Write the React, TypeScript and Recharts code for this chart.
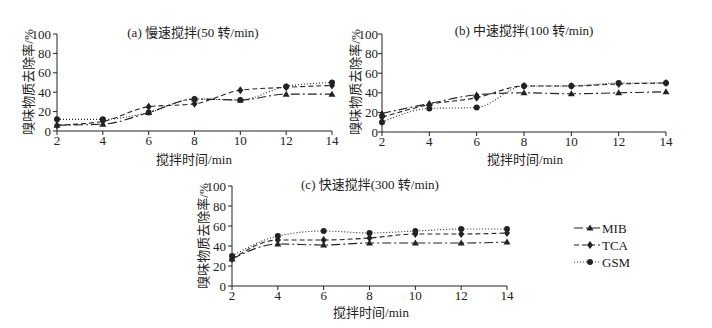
import React from "react";
import { CartesianGrid, Line, LineChart, XAxis, YAxis } from "recharts";

const times = [2, 4, 6, 8, 10, 12, 14];
const yTicks = [0, 20, 40, 60, 80, 100];

// panel (a) slow stirring
const mibSlow = [6, 7, 19, 33, 32, 38, 38];
const tcaSlow = [6, 10, 25, 28, 42, 45, 47];
const gsmSlow = [12, 12, 19, 33, 32, 46, 50];

// panel (b) medium stirring
const mibMid = [19, 29, 38, 40, 39, 40, 41];
const tcaMid = [15, 28, 35, 47, 47, 49, 50];
const gsmMid = [10, 24, 25, 47, 47, 50, 50];

// panel (c) fast stirring
const mibFast = [27, 42, 41, 43, 43, 43, 44];
const tcaFast = [27, 46, 46, 48, 52, 52, 53];
const gsmFast = [30, 50, 55, 53, 55, 57, 57];

const FONT = '"Liberation Serif", "Noto Sans CJK SC", serif';
const INK = "#222";

type Shape = "triangle" | "diamond" | "circle";

const SERIES: { key: string; name: string; dash: string; shape: Shape }[] = [
  { key: "mib", name: "MIB", dash: "9 3 2 3", shape: "triangle" },
  { key: "tca", name: "TCA", dash: "5 3", shape: "diamond" },
  { key: "gsm", name: "GSM", dash: "1 2", shape: "circle" },
];

function Marker({ cx, cy, shape }: { cx: number; cy: number; shape: Shape }) {
  if (cx == null || cy == null) return null;
  if (shape === "triangle") {
    return (
      <polygon
        points={`${cx},${cy - 3.5} ${cx - 3.5},${cy + 2.5} ${cx + 3.5},${cy + 2.5}`}
        fill={INK}
      />
    );
  }
  if (shape === "diamond") {
    return (
      <polygon
        points={`${cx},${cy - 4} ${cx + 3},${cy} ${cx},${cy + 4} ${cx - 3},${cy}`}
        fill={INK}
      />
    );
  }
  return <circle cx={cx} cy={cy} r={3} fill={INK} />;
}

function buildRows(mib: number[], tca: number[], gsm: number[]) {
  return times.map((t, i) => ({ t, mib: mib[i], tca: tca[i], gsm: gsm[i] }));
}

type PanelProps = {
  left: number;
  top: number;
  width: number;
  height: number;
  margin: { top: number; right: number; bottom: number; left: number };
  rows: ReturnType<typeof buildRows>;
  yTickMargin?: number;
};

function Panel({ left, top, width, height, margin, rows, yTickMargin = 2 }: PanelProps) {
  return (
    <div style={{ position: "absolute", left, top }}>
      <LineChart width={width} height={height} data={rows} margin={margin}>
        <CartesianGrid stroke="none" />
        <XAxis
          dataKey="t"
          type="number"
          domain={[2, 14]}
          ticks={times}
          stroke={INK}
          tickSize={4}
          tickMargin={1}
          height={24}
          tick={{ fill: INK, fontSize: 13, fontFamily: FONT }}
        />
        <YAxis
          domain={[0, 100]}
          ticks={yTicks}
          stroke={INK}
          tickSize={4}
          tickMargin={yTickMargin}
          width={40}
          interval={0}
          tick={{ fill: INK, fontSize: 13, fontFamily: FONT }}
        />
        {SERIES.map((s) => (
          <Line
            key={s.key}
            dataKey={s.key}
            type="monotone"
            stroke={INK}
            strokeWidth={1.1}
            strokeDasharray={s.dash}
            dot={(p: any) => (
              <Marker key={`${s.key}-${p.index}`} cx={p.cx} cy={p.cy} shape={s.shape} />
            )}
            isAnimationActive={false}
          />
        ))}
      </LineChart>
    </div>
  );
}

function Text({
  x,
  y,
  children,
  rotate,
}: {
  x: number;
  y: number;
  children: React.ReactNode;
  rotate?: boolean;
}) {
  return (
    <div
      style={{
        position: "absolute",
        left: x,
        top: y,
        transform: `translate(-50%, -50%)${rotate ? " rotate(-90deg)" : ""}`,
        whiteSpace: "nowrap",
        fontFamily: FONT,
        fontSize: 13,
        color: INK,
        lineHeight: 1,
      }}
    >
      {children}
    </div>
  );
}

function LegendBox() {
  return (
    <svg
      style={{ position: "absolute", left: 570, top: 215 }}
      width={80}
      height={60}
    >
      {SERIES.map((s, i) => {
        const y = 13 + i * 17;
        return (
          <g key={s.key}>
            <line x1={4} x2={30} y1={y} y2={y} stroke={INK} strokeDasharray={s.dash} />
            <Marker cx={20} cy={y} shape={s.shape} />
            <text
              x={32}
              y={y + 4.5}
              fontSize={13}
              fontFamily={FONT}
              fill={INK}
            >
              {s.name}
            </text>
          </g>
        );
      })}
    </svg>
  );
}

export default function App() {
  return (
    <div
      style={{
        position: "absolute",
        left: 0,
        top: 0,
        width: 712,
        height: 328,
        background: "#fff",
        overflow: "hidden",
      }}
    >
      <Panel
        left={0}
        top={0}
        width={350}
        height={170}
        margin={{ top: 34, right: 18, bottom: 15, left: 17 }}
        rows={buildRows(mibSlow, tcaSlow, gsmSlow)}
      />
      <Panel
        left={330}
        top={0}
        width={360}
        height={170}
        margin={{ top: 34, right: 24, bottom: 14, left: 12 }}
        rows={buildRows(mibMid, tcaMid, gsmMid)}
        yTickMargin={0}
      />
      <Panel
        left={180}
        top={150}
        width={345}
        height={170}
        margin={{ top: 36, right: 18, bottom: 10, left: 12 }}
        rows={buildRows(mibFast, tcaFast, gsmFast)}
      />

      <Text x={193} y={32}>(a) 慢速搅拌(50 转/min)</Text>
      <Text x={524} y={30}>(b) 中速搅拌(100 转/min)</Text>
      <Text x={370} y={184}>(c) 快速搅拌(300 转/min)</Text>

      <Text x={194} y={159}>搅拌时间/min</Text>
      <Text x={525} y={159}>搅拌时间/min</Text>
      <Text x={371} y={312}>搅拌时间/min</Text>

      <Text x={28} y={82} rotate>嗅味物质去除率/%</Text>
      <Text x={355} y={82} rotate>嗅味物质去除率/%</Text>
      <Text x={203} y={236} rotate>嗅味物质去除率/%</Text>

      <LegendBox />
    </div>
  );
}
